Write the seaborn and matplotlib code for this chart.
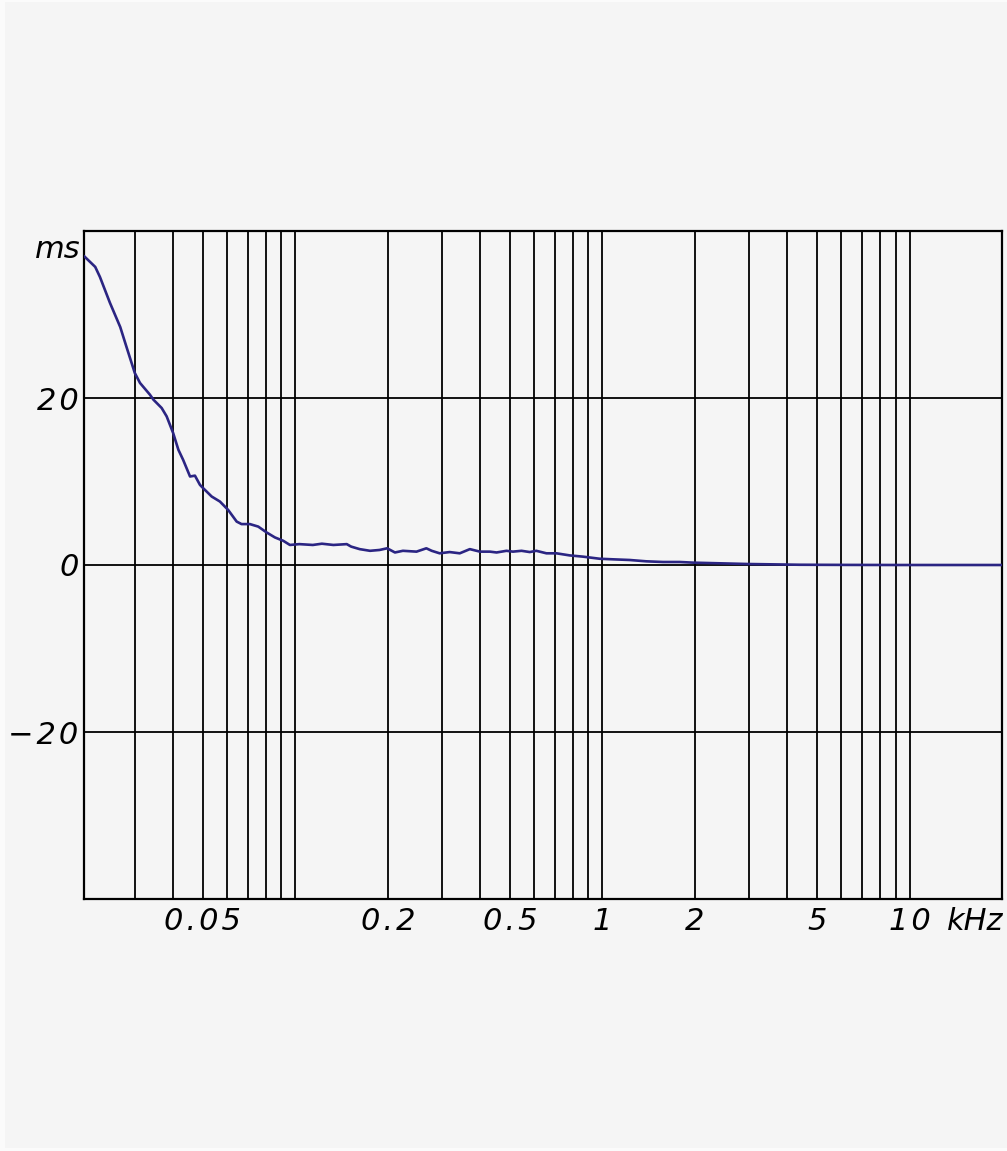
import numpy as np
import pandas as pd
import matplotlib
matplotlib.use("Agg")
import matplotlib.pyplot as plt
from matplotlib.patches import Rectangle
import seaborn as sns

# Group delay of the system
freq_hz = [20.5, 22.3, 23.1, 24.9, 26.9, 28.2, 30.0, 31.2, 33.6, 34.5, 36.7, 38.1,
           40.0, 41.6, 43.1, 45.4, 47.1, 48.9, 50.1, 53.4, 56.8, 60.4, 64.4, 66.8,
           71.1, 75.7, 80.6, 85.8, 91.3, 96.0, 103, 114, 122, 133, 147, 152, 162,
           175, 188, 199, 211, 224, 248, 267, 278, 295, 318, 343, 370, 399, 430,
           452, 487, 511, 545, 580, 609, 657, 708, 782, 864, 979, 1082, 1226,
           1390, 1574, 1784, 1980, 2968, 4383, 6376, 9272, 20000]
delay_ms = [37.0, 35.7, 34.5, 31.4, 28.5, 26.1, 23.0, 21.8, 20.4, 19.8, 18.8, 17.8,
            15.8, 13.8, 12.6, 10.6, 10.7, 9.6, 9.2, 8.2, 7.6, 6.6, 5.2, 4.9,
            4.9, 4.6, 3.9, 3.3, 2.9, 2.4, 2.5, 2.4, 2.55, 2.4, 2.5, 2.2, 1.9,
            1.7, 1.8, 2.0, 1.5, 1.7, 1.6, 2.0, 1.7, 1.4, 1.55, 1.4, 1.9, 1.6, 1.6,
            1.5, 1.7, 1.6, 1.7, 1.55, 1.7, 1.4, 1.4, 1.15, 1.0, 0.75, 0.68, 0.6,
            0.44, 0.36, 0.36, 0.28, 0.12, 0.03, 0.01, 0.0, 0.0]

# Axis labelling
xtick_hz = [50, 200, 500, 1000, 2000, 5000, 10000]
xtick_labels = ["0.05", "0.2", "0.5", "1", "2", "5", "10"]
ytick_ms = [-20, 0, 20]
ytick_labels = ["\u221220", "0", "20"]

HAIR = "\u200a"


def spaced(s):
    """Open up the letter spacing of a numeric label."""
    return HAIR.join(s)


df = pd.DataFrame({"freq": freq_hz, "delay": delay_ms})

sns.set_theme(style="white")
plt.rcParams["font.family"] = ["DejaVu Sans"]

bg = "#f5f5f5"
fig = plt.figure(figsize=(10.07, 11.51), dpi=100, facecolor="#fbfbfb")
fig.patches.append(Rectangle((5 / 1007, 3 / 1151), 1 - 5 / 1007, 1 - 5 / 1151,
                             transform=fig.transFigure, facecolor=bg,
                             edgecolor="none", zorder=-10))

ax = fig.add_axes([84 / 1007, 1 - 899 / 1151, 918 / 1007, 668 / 1151])
ax.set_facecolor(bg)

sns.lineplot(data=df, x="freq", y="delay", ax=ax, color="#2b2583",
             linewidth=1.9, zorder=3)

ax.set_xscale("log")
ax.set_xlim(20.5, 20000)
ax.set_ylim(-40, 40)

# Decade grid: every 1..9 multiple
grid_hz = [m * 10 ** e for e in (1, 2, 3, 4) for m in range(1, 10)
           if 20.5 < m * 10 ** e < 20000]
ax.set_xticks(grid_hz, minor=True)
ax.set_xticks(xtick_hz)
ax.set_xticklabels([spaced(t) for t in xtick_labels])
ax.xaxis.set_minor_formatter(plt.NullFormatter())
ax.set_yticks(ytick_ms)
ax.set_yticklabels([spaced(t) for t in ytick_labels])

ax.grid(False)
ax.grid(True, axis="x", which="both", color="black", linewidth=1.3)
ax.grid(True, axis="y", which="major", color="black", linewidth=1.3)

tick_font = dict(fontsize=22, fontstyle="italic", color="black")
for lab in ax.get_xticklabels() + ax.get_yticklabels():
    lab.set_fontsize(22)
    lab.set_fontstyle("italic")
    lab.set_color("black")
ax.tick_params(axis="both", which="both", length=0)
ax.tick_params(axis="x", pad=6)
ax.tick_params(axis="y", pad=4)

for s in ax.spines.values():
    s.set_visible(True)
    s.set_color("black")
    s.set_linewidth(1.6)

ax.set_xlabel("")
ax.set_ylabel("")

fig.text(81 / 1007, 1 - 249 / 1151, "ms", ha="right", va="center", **tick_font)
fig.text(975 / 1007, 1 - 921 / 1151, "kHz", ha="center", va="center",
         **tick_font)

fig.savefig("out.png", dpi=100, facecolor=fig.get_facecolor())
